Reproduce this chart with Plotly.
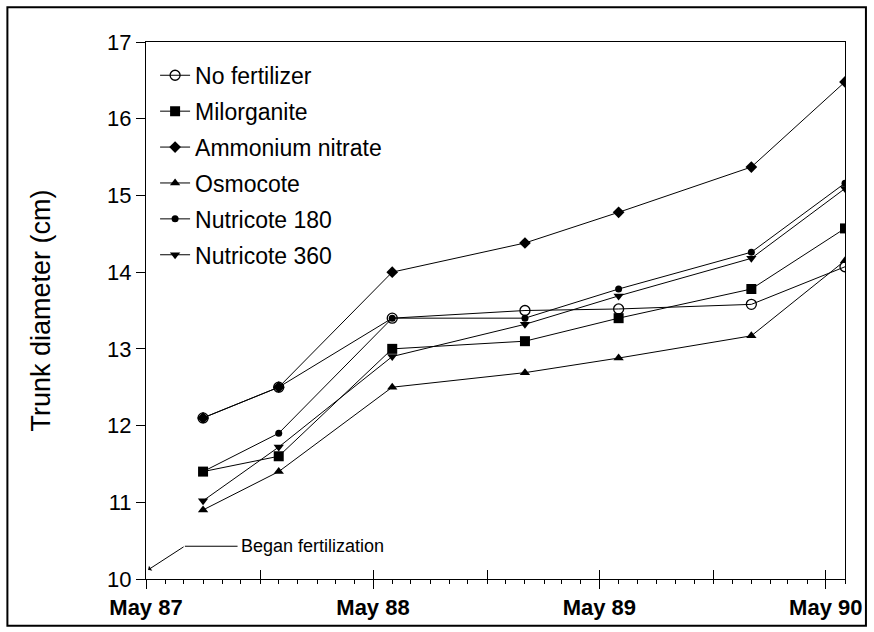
import plotly.graph_objects as go
import pandas as pd

# ---- data ----
dates = ["1987-08-01", "1987-12-01", "1988-06-01", "1989-01-01",
         "1989-06-01", "1990-01-01", "1990-06-01"]
no_fertilizer = [12.1, 12.5, 13.4, 13.5, 13.52, 13.58, 14.07]
milorganite = [11.4, 11.6, 13.0, 13.1, 13.4, 13.78, 14.57]
ammonium_nitrate = [12.1, 12.5, 14.0, 14.38, 14.78, 15.37, 16.48]
osmocote = [10.9, 11.4, 12.5, 12.69, 12.88, 13.17, 14.15]
nutricote_180 = [11.4, 11.9, 13.4, 13.4, 13.78, 14.26, 15.16]
nutricote_360 = [11.02, 11.72, 12.9, 13.32, 13.69, 14.18, 15.09]

series_names = ["No fertilizer", "Milorganite", "Ammonium nitrate",
                "Osmocote", "Nutricote 180", "Nutricote 360"]
series_values = [no_fertilizer, milorganite, ammonium_nitrate,
                 osmocote, nutricote_180, nutricote_360]

tick_dates = ["1987-05-01", "1987-11-01", "1988-05-01", "1988-11-01",
              "1989-05-01", "1989-11-01", "1990-05-01"]
tick_labels = ["May 87", "", "May 88", "", "May 89", "", "May 90"]
y_ticks = [10, 11, 12, 13, 14, 15, 16, 17]

x_range = ["1987-05-01", "1990-06-01"]
y_range = [10, 17]

annotation_text = "Began fertilization"
y_title = "Trunk diameter (cm)"

# ---- styles ----
marker_styles = [
    dict(symbol="circle-open", size=10, color="black", line=dict(width=1.3, color="black")),
    dict(symbol="square", size=10, color="black"),
    dict(symbol="diamond", size=9, color="black"),
    dict(symbol="triangle-up", size=9, color="black"),
    dict(symbol="circle", size=7, color="black"),
    dict(symbol="triangle-down", size=9, color="black"),
]

FONT = "Liberation Sans, Arial, sans-serif"

fig = go.Figure()
for i, (name, vals) in enumerate(zip(series_names, series_values)):
    fig.add_trace(go.Scatter(
        x=dates, y=vals, name=name, mode="lines+markers",
        line=dict(color="black", width=1),
        marker=marker_styles[i],
        legendgroup=name,
    ))

# invisible trace to host the overlay axis used for crossing major ticks
fig.add_trace(go.Scatter(
    x=dates, y=no_fertilizer, xaxis="x2", mode="lines",
    line=dict(width=0, color="rgba(0,0,0,0)"), showlegend=False, hoverinfo="skip",
))

minor_vals = [d.strftime("%Y-%m-%d") for d in pd.date_range(x_range[0], x_range[1], freq="MS")]

fig.update_layout(
    width=874, height=632, autosize=False,
    paper_bgcolor="white", plot_bgcolor="white",
    margin=dict(l=146, r=27, t=42, b=51, pad=0),
    font=dict(family=FONT, color="black"),
    showlegend=True,
    legend=dict(
        x=0.013, y=0.978, xanchor="left", yanchor="top",
        font=dict(size=23, family=FONT, color="black"),
        bgcolor="rgba(0,0,0,0)", borderwidth=0,
        traceorder="grouped", tracegroupgap=3,
        itemclick=False,
    ),
    xaxis=dict(
        type="date", range=x_range,
        tickmode="array", tickvals=tick_dates, ticktext=tick_labels,
        ticks="outside", ticklen=9, tickwidth=1, tickcolor="black",
        tickfont=dict(size=22, family=FONT, color="black", weight="bold"),
        showline=True, linecolor="black", linewidth=1, mirror=True,
        showgrid=False, zeroline=False,
        minor=dict(tickmode="array", tickvals=minor_vals, ticks="outside",
                   ticklen=4, tickwidth=1, tickcolor="black", showgrid=False),
    ),
    xaxis2=dict(
        type="date", range=x_range, overlaying="x", anchor="y", side="bottom",
        tickmode="array", tickvals=tick_dates, ticktext=tick_labels,
        ticks="inside", ticklen=9, tickwidth=1, tickcolor="black",
        showticklabels=False, showline=False, showgrid=False, zeroline=False,
    ),
    yaxis=dict(
        range=y_range, tickmode="array", tickvals=y_ticks,
        ticks="outside", ticklen=9, tickwidth=1, tickcolor="black",
        tickfont=dict(size=22, family=FONT, color="black"),
        showline=True, linecolor="black", linewidth=1, mirror=True,
        showgrid=False, zeroline=False,
        title=dict(text=y_title, font=dict(size=27, family=FONT, color="black"), standoff=48),
    ),
)

# "Began fertilization" note with bent leader arrow
fig.add_annotation(
    x=0.133, y=0.061, xref="paper", yref="paper",
    text=annotation_text, showarrow=False, xanchor="left", yanchor="middle",
    font=dict(size=18, family=FONT, color="black"),
)
fig.add_shape(type="line", xref="paper", yref="paper",
              x0=0.0556, y0=0.061, x1=0.131, y1=0.061,
              line=dict(color="black", width=1))
fig.add_annotation(
    x=0.003, y=0.017, xref="paper", yref="paper",
    ax=37, ay=-24, text="", showarrow=True,
    arrowhead=1, arrowsize=1, arrowwidth=1, arrowcolor="black",
)

# outer frame around the whole figure
fig.add_shape(type="rect", xref="paper", yref="paper",
              x0=(7 - 146) / 701, x1=(868 - 146) / 701,
              y0=(581 - 628) / 539, y1=(581 - 7) / 539,
              line=dict(color="black", width=2), fillcolor="rgba(0,0,0,0)", layer="below")

fig.write_html("out.html", config={"displayModeBar": False},
               post_script="document.body.style.margin='0px';")
